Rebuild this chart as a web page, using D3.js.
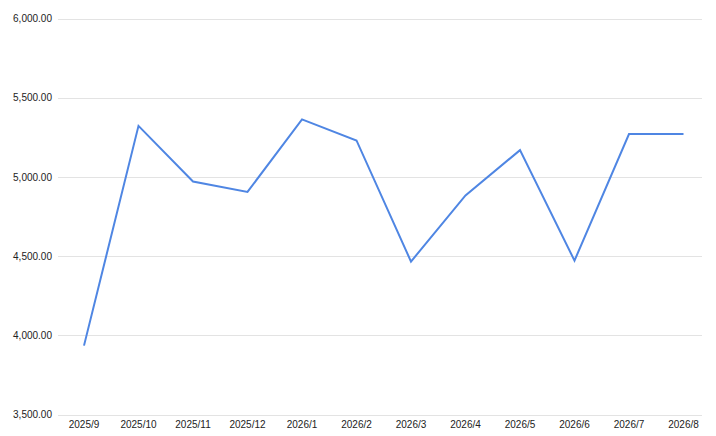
<!DOCTYPE html>
<html>
<head>
<meta charset="utf-8">
<script src="https://cdn.jsdelivr.net/npm/d3@7"></script>
<style>
  body { margin: 0; background: #fff; }
  text { font-family: "Liberation Sans", Arial, sans-serif; font-size: 10px; fill: #222; }
</style>
</head>
<body>
<div id="chart"></div>
<script>
var width = 716, height = 436;

/* chart data */
var months = ["2025/9", "2025/10", "2025/11", "2025/12", "2026/1", "2026/2",
              "2026/3", "2026/4", "2026/5", "2026/6", "2026/7", "2026/8"];
var values = [3935, 5323, 4972, 4906, 5364, 5231, 4466, 4884, 5170, 4472, 5271, 5271];
var yTicks = [3500, 4000, 4500, 5000, 5500, 6000];

var svg = d3.select("#chart")
    .append("svg")
    .attr("width", width)
    .attr("height", height);

var x = d3.scalePoint()
    .domain(months)
    .range([84, 683.5]);

var y = d3.scaleLinear()
    .domain([3500, 6000])
    .range([414.5, 18.7]);

/* gridlines */
svg.append("g")
    .selectAll("line")
    .data(yTicks)
    .join("line")
    .attr("x1", 58)
    .attr("x2", 702)
    .attr("y1", function (d) { return Math.round(y(d)) + 0.5; })
    .attr("y2", function (d) { return Math.round(y(d)) + 0.5; })
    .attr("stroke", "#e3e3e3")
    .attr("stroke-width", 1);

/* y labels */
var fmt = d3.format(",.2f");
svg.append("g")
    .selectAll("text")
    .data(yTicks)
    .join("text")
    .attr("x", 52)
    .attr("y", function (d) { return y(d); })
    .attr("dy", "0.35em")
    .attr("text-anchor", "end")
    .text(function (d) { return fmt(d); });

/* x labels */
svg.append("g")
    .selectAll("text")
    .data(months)
    .join("text")
    .attr("x", function (d) { return x(d); })
    .attr("y", 428)
    .attr("text-anchor", "middle")
    .text(function (d) { return d; });

/* the line */
var line = d3.line()
    .x(function (d, i) { return x(months[i]); })
    .y(function (d) { return y(d); });

svg.append("path")
    .datum(values)
    .attr("fill", "none")
    .attr("stroke", "#4f86e3")
    .attr("stroke-width", 2)
    .attr("stroke-linejoin", "miter")
    .attr("d", line);
</script>
</body>
</html>
